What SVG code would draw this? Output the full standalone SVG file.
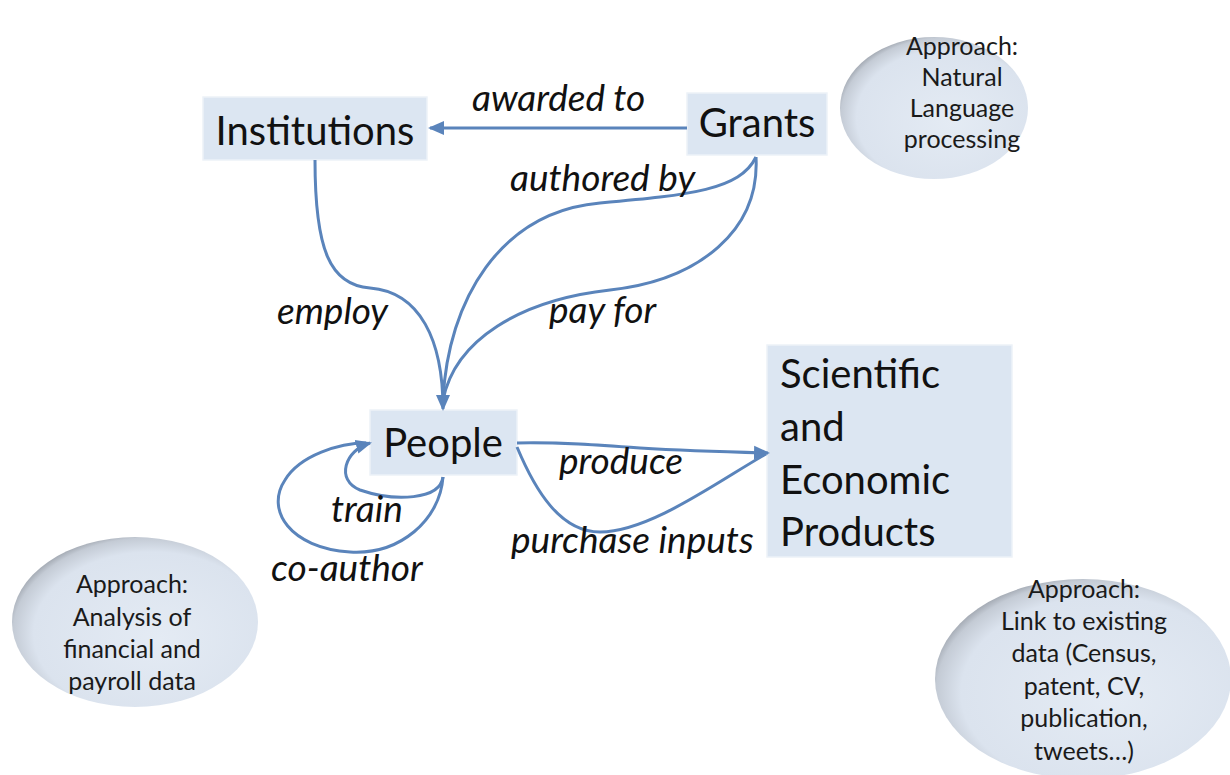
<svg xmlns="http://www.w3.org/2000/svg" width="1230" height="775" viewBox="0 0 1230 775">
<defs>
<radialGradient id="oval" cx="0.56" cy="0.56" r="0.6" fx="0.6" fy="0.6">
<stop offset="0" stop-color="#e4ebf4"/>
<stop offset="0.8" stop-color="#dbe3ee"/>
<stop offset="0.93" stop-color="#c4cbd5"/>
<stop offset="1" stop-color="#969ca5"/>
</radialGradient>
<marker id="arr" markerUnits="userSpaceOnUse" markerWidth="16" markerHeight="16" viewBox="0 0 16 16" refX="14" refY="8" orient="auto">
<path d="M0,1 L16,8 L0,15 Z" fill="#5a84bb"/>
</marker>
</defs>
<style>
.box{fill:#dce6f2;stroke:#edf2f8;stroke-width:1.5}
.node{font-family:Lato,"Liberation Sans",sans-serif;font-size:40px;fill:#111}
.lbl{font-family:Lato,"Liberation Sans",sans-serif;font-size:37px;font-style:italic;fill:#111}
.ov{fill:url(#oval)}
.ot{font-family:Lato,"Liberation Sans",sans-serif;font-size:25px;fill:#1a1a1a;text-anchor:middle}
.c{fill:none;stroke:#5a84bb;stroke-width:3}
</style>
<rect width="1230" height="775" fill="#ffffff"/>

<g id="approach-nlp">
<ellipse class="ov" cx="934" cy="108" rx="94" ry="71"/>
<text class="ot" x="962" y="55">Approach:</text>
<text class="ot" x="962" y="86">Natural</text>
<text class="ot" x="962" y="117">Language</text>
<text class="ot" x="962" y="148">processing</text>
</g>
<g id="approach-financial">
<ellipse class="ov" cx="135" cy="622" rx="123" ry="85"/>
<text class="ot" x="132" y="593">Approach:</text>
<text class="ot" x="132" y="626">Analysis of</text>
<text class="ot" x="132" y="658">financial and</text>
<text class="ot" x="132" y="690">payroll data</text>
</g>
<g id="approach-link">
<ellipse class="ov" cx="1083" cy="679" rx="148" ry="100"/>
<text class="ot" x="1084" y="598">Approach:</text>
<text class="ot" x="1084" y="630">Link to existing</text>
<text class="ot" x="1084" y="662">data (Census,</text>
<text class="ot" x="1084" y="695">patent, CV,</text>
<text class="ot" x="1084" y="727">publication,</text>
<text class="ot" x="1084" y="760">tweets…)</text>
</g>

<g id="institutions">
<rect class="box" x="203" y="97" width="224" height="63"/>
<text class="node" x="315" y="145" text-anchor="middle">Institutions</text>
</g>
<g id="grants">
<rect class="box" x="687" y="93" width="140" height="62"/>
<text class="node" x="757" y="137" text-anchor="middle">Grants</text>
</g>
<g id="people">
<rect class="box" x="370" y="410" width="147" height="65"/>
<text class="node" x="443" y="457" text-anchor="middle">People</text>
</g>
<g id="products">
<rect class="box" x="767" y="345" width="245" height="212"/>
<text class="node" x="780" y="388">Scientific</text>
<text class="node" x="780" y="441">and</text>
<text class="node" x="780" y="494">Economic</text>
<text class="node" x="780" y="546">Products</text>
</g>

<g id="connectors">
<path class="c" d="M687,128 L430,128" marker-end="url(#arr)"/>
<path class="c" d="M315,160 C315,250 330,285 370,288 C420,292 443,340 443,409" marker-end="url(#arr)"/>
<path class="c" d="M756,157 C740,190 690,195 600,203 C500,212 448,300 443,400"/>
<path class="c" d="M756,157 C760,230 700,280 610,290 C520,300 455,340 443,400"/>
<path class="c" d="M517,443 C560,442 600,445 640,448 C690,451 730,452 768,453" marker-end="url(#arr)"/>
<path class="c" d="M517,447 C535,490 560,532 600,532 C650,532 720,480 766,454"/>
<path class="c" d="M443,477 C440,500 395,502 360,490 C335,480 345,450 370,443" marker-end="url(#arr)"/>
<path class="c" d="M443,477 C440,520 400,555 350,552 C290,548 265,510 285,480 C300,455 340,443 366,443"/>
</g>

<g id="labels">
<text class="lbl" x="472" y="111">awarded to</text>
<text class="lbl" x="510" y="191">authored by</text>
<text class="lbl" x="277" y="324">employ</text>
<text class="lbl" x="549" y="323">pay for</text>
<text class="lbl" x="559" y="474">produce</text>
<text class="lbl" x="331" y="522">train</text>
<text class="lbl" x="511" y="553">purchase inputs</text>
<text class="lbl" x="271" y="581">co-author</text>
</g>
</svg>
